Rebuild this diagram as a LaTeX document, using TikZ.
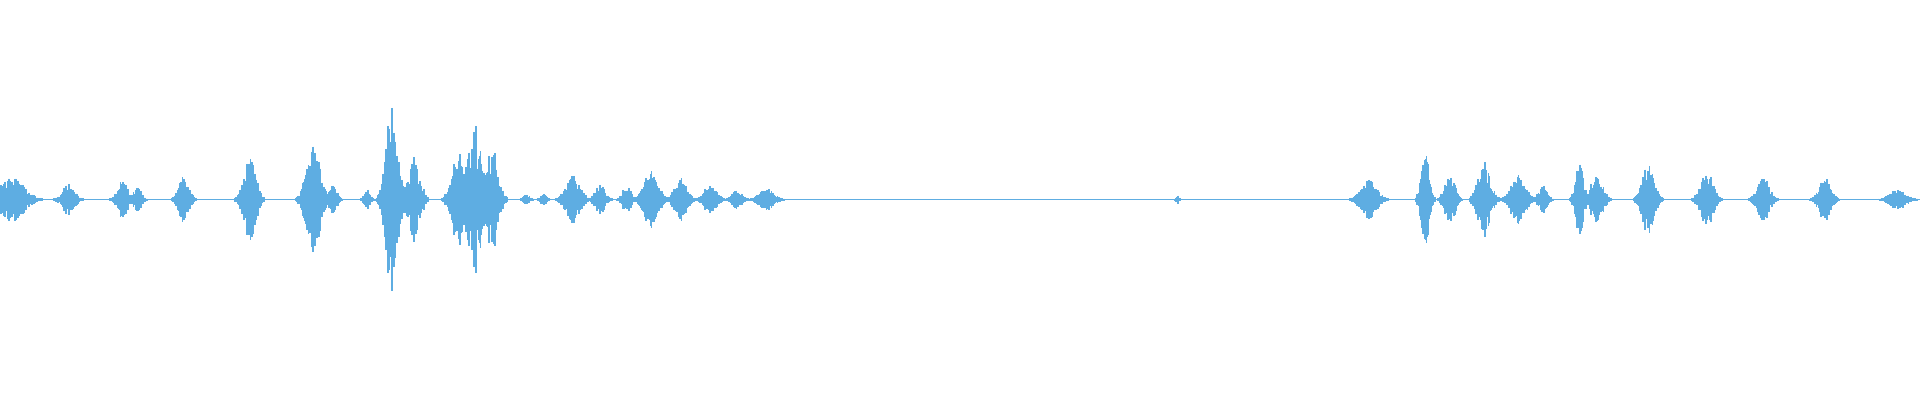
\documentclass[tikz,border=0pt]{standalone}
\definecolor{wave}{RGB}{94,173,226}
\tikzset{sample/.style={draw=wave, line width=0.5pt}}
\begin{document}
\begin{tikzpicture}[x=0.012245cm, y=-0.012245cm]
\pgfmathsetseed{7}
\useasboundingbox (0,0) rectangle (1568,326.7);
% centre line
\draw[wave, line width=0.35pt] (0,163) -- (1568,163);
% bursts: centre / half width / amplitude
\foreach \c/\w/\a in {10/24/18, 56/12/13, 100/10/16, 112/8/10, 150/10/20,
  204/12/35, 256/14/44, 272/8/12, 300/6/10, 320/12/75, 338/12/35,
  375/14/45, 388/14/60, 402/12/42, 430/6/4, 444/6/4, 468/14/20, 490/10/12,
  512/8/12, 532/14/24, 556/12/18, 580/12/12, 602/10/8, 626/14/9, 962/3/3,
  1118/16/16, 1164/8/40, 1184/10/20, 1212/12/35, 1240/14/20, 1260/8/12,
  1290/8/30, 1304/12/20, 1346/12/28, 1394/12/25, 1440/12/18, 1490/12/18,
  1550/16/8}{
  \pgfmathtruncatemacro\n{2*\w}
  \foreach \k in {-\n,...,\n}{
    \pgfmathsetmacro\i{\k/2}
    \pgfmathsetmacro\amp{\a*exp(-(\i/(0.55*\w))^2)*(0.35+0.65*rnd)+0.5}
    \draw[sample] (\c+\i,163-\amp) -- (\c+\i,163+\amp);
  }
}
\end{tikzpicture}
\end{document}
